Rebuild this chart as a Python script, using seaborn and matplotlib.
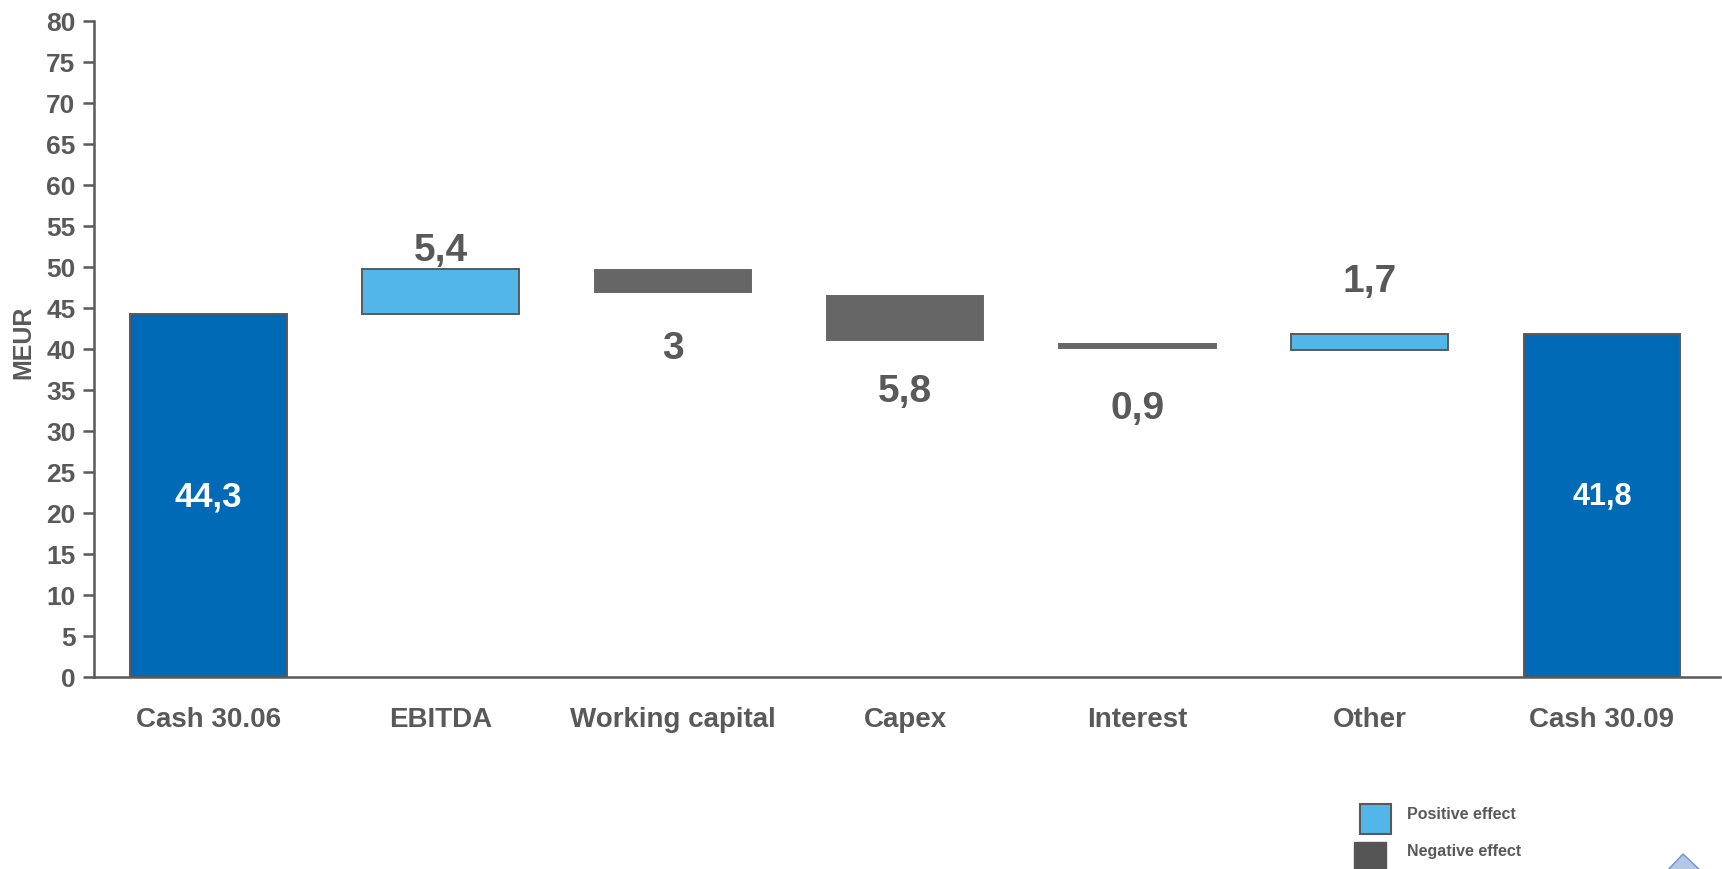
import matplotlib
matplotlib.use("Agg")
import matplotlib.pyplot as plt
from matplotlib.patches import Rectangle, Polygon
from matplotlib import font_manager
import seaborn as sns
import pandas as pd

# ---- data ----
categories = ["Cash 30.06", "EBITDA", "Working capital", "Capex", "Interest", "Other", "Cash 30.09"]
bar_low = [0.0, 44.3, 46.9, 41.1, 40.15, 39.9, 0.0]
bar_high = [44.3, 49.7, 49.6, 46.5, 40.6, 41.8, 41.8]
kinds = ["total", "pos", "neg", "neg", "neg", "pos", "total"]
value_labels = ["44,3", "5,4", "3", "5,8", "0,9", "1,7", "41,8"]
y_ticks = list(range(0, 81, 5))
legend_labels = ["Positive effect", "Negative effect"]

# ---- layout (annotation positions in data units) ----
label_y = [22.1, 52.1, 40.1, 34.8, 32.8, 48.3, 22.1]

W, H = 1722, 870
TXT = "#595959"
colors = {"total": "#006AB6", "pos": "#52B7E8", "neg": "#666666"}
edges = {"total": "#5a5a5a", "pos": "#5a5a5a", "neg": "#666666"}

sns.set_theme(style="white")
avail = {f.name for f in font_manager.fontManager.ttflist}
base = "Liberation Sans" if "Liberation Sans" in avail else "DejaVu Sans"
plt.rcParams["font.family"] = [base, "DejaVu Sans"]

fig = plt.figure(figsize=(W / 100, H / 100), dpi=100)
ax = fig.add_axes([93.5 / W, 1 - 677.7 / H, (1720 - 93.5) / W, (677.7 - 22) / H])

df = pd.DataFrame({
    "category": categories,
    "height": [h - l for h, l in zip(bar_high, bar_low)],
})
sns.barplot(data=df, x="category", y="height", order=categories, ax=ax,
            width=0.674, errorbar=None, bottom=bar_low, color="#006AB6")

for p, k in zip(ax.patches, kinds):
    p.set_facecolor(colors[k])
    p.set_edgecolor(edges[k])
    p.set_linewidth(1.4)

for i, (lab, k) in enumerate(zip(value_labels, kinds)):
    if k == "total":
        ax.text(i, label_y[i], lab, ha="center", va="center", color="white",
                fontsize=25 if i == 0 else 22, fontweight="bold")
    else:
        ax.text(i, label_y[i], lab, ha="center", va="center", color=TXT,
                fontsize=28, fontweight="bold")

ax.set_xlim(-0.494, 6.508)
ax.set_ylim(0, 80)
ax.set_yticks(y_ticks)
ax.set_yticklabels([str(t) for t in y_ticks])
ax.set_xlabel("")
ax.set_ylabel("MEUR", fontsize=18, fontweight="bold", color=TXT)
ax.yaxis.set_label_coords(-0.036, 0.511)

for s in ["top", "right"]:
    ax.spines[s].set_visible(False)
for s in ["left", "bottom"]:
    ax.spines[s].set_color(TXT)
    ax.spines[s].set_linewidth(1.8)

ax.tick_params(axis="y", which="both", left=True, length=8, width=1.8, color=TXT,
               labelsize=19, labelcolor=TXT, pad=5, direction="out")
ax.tick_params(axis="x", which="both", bottom=False, length=0, labelsize=20,
               labelcolor=TXT, pad=21)
for t in ax.get_yticklabels() + ax.get_xticklabels():
    t.set_fontweight("bold")

# ---- legend (figure pixel coordinates) ----
fig.add_artist(Rectangle((1360 / W, 1 - 835 / H), 31 / W, 30 / H, transform=fig.transFigure,
                         facecolor=colors["pos"], edgecolor=TXT, linewidth=1.5))
fig.add_artist(Rectangle((1354 / W, 1 - 874 / H), 32 / W, 31 / H, transform=fig.transFigure,
                         facecolor="#555555", edgecolor="#555555", linewidth=1))
fig.text(1407 / W, 1 - 815 / H, legend_labels[0], fontsize=11.5, fontweight="bold",
         color=TXT, va="center", ha="left")
fig.text(1407 / W, 1 - 852 / H, legend_labels[1], fontsize=11.5, fontweight="bold",
         color=TXT, va="center", ha="left")

# small logo fragment bottom-right
fig.add_artist(Polygon([(1667 / W, 1 - 872 / H), (1683 / W, 1 - 855 / H), (1701 / W, 1 - 872 / H)],
                       closed=True, transform=fig.transFigure, facecolor="#b3c8e6",
                       edgecolor="#6f92c8", linewidth=1))

fig.savefig("out.png", dpi=100)
